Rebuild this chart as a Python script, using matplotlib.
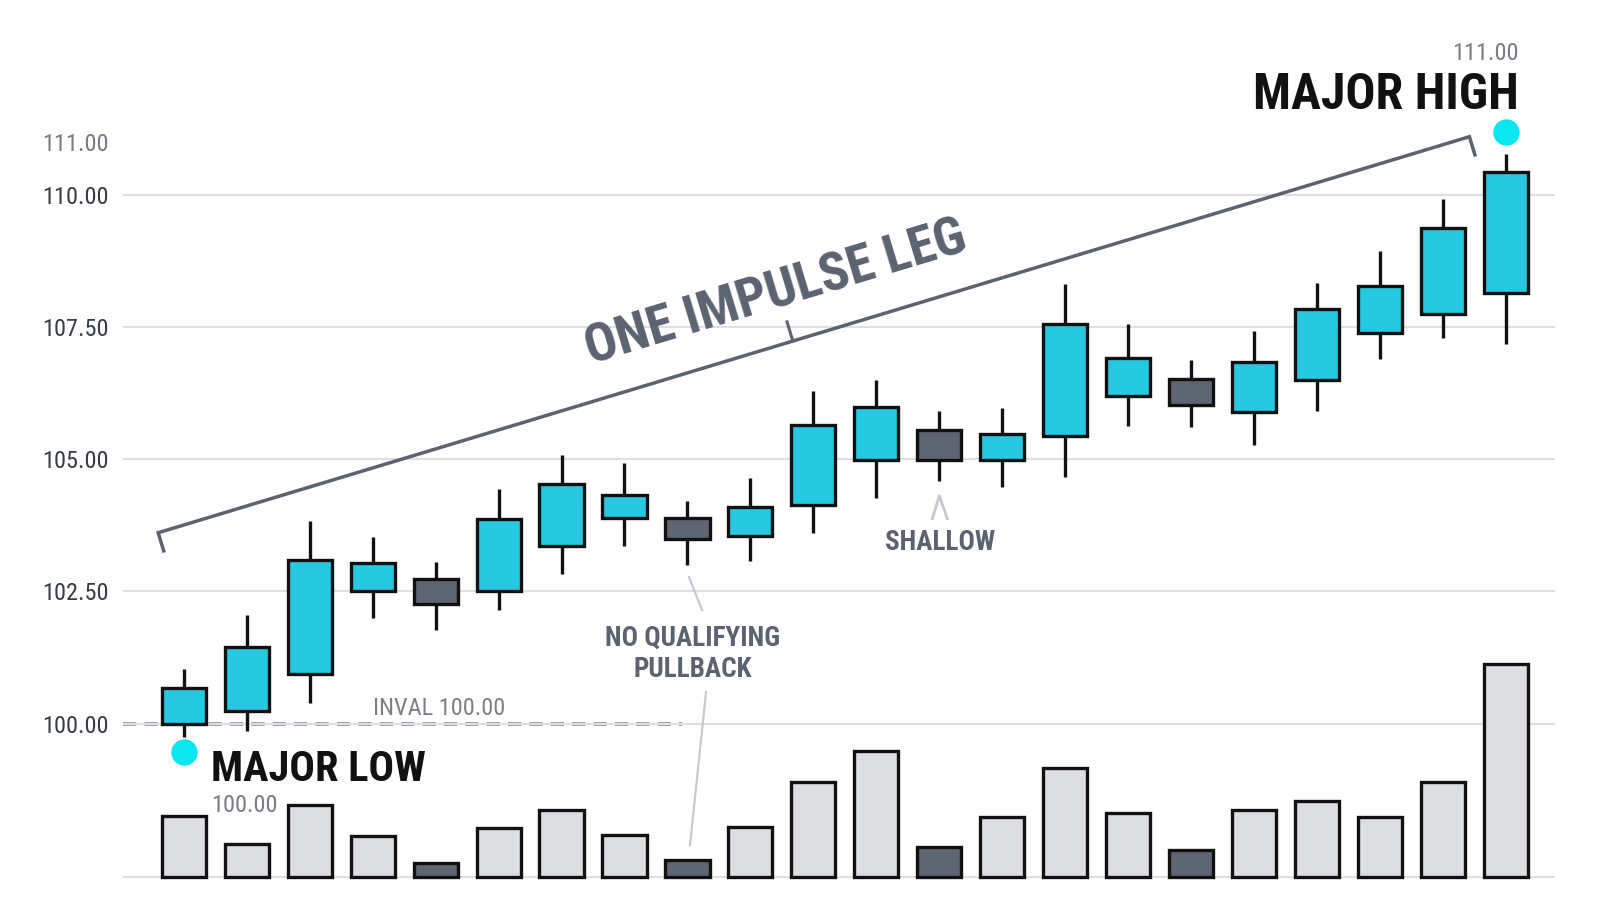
import numpy as np
import matplotlib
matplotlib.use("Agg")
import matplotlib.pyplot as plt

plt.rcParams['font.family'] = ['Roboto Condensed', 'Roboto', 'DejaVu Sans']

# OHLC, one entry per candle
opens = [100.00, 100.23, 100.93, 102.50, 102.74, 102.51, 103.36, 103.88, 103.88, 103.55, 104.13,
         104.98, 105.54, 104.98, 105.43, 106.19, 106.51, 105.89, 106.49, 107.39, 107.75, 108.13]
highs = [101.04, 102.06, 103.82, 103.53, 103.05, 104.44, 105.07, 104.92, 104.20, 104.65, 106.29,
         106.50, 105.90, 105.96, 108.31, 107.56, 106.88, 107.42, 108.33, 108.93, 109.92, 110.76]
lows = [99.75, 99.85, 100.39, 102.00, 101.77, 102.14, 102.82, 103.36, 103.00, 103.07, 103.60,
        104.26, 104.59, 104.47, 104.66, 105.63, 105.60, 105.27, 105.91, 106.90, 107.28, 107.18]
closes = [100.68, 101.45, 103.10, 103.03, 102.26, 103.86, 104.53, 104.32, 103.49, 104.09, 105.65,
          105.98, 104.98, 105.48, 107.56, 106.91, 106.03, 106.83, 107.83, 108.28, 109.36, 110.43]
volumes = [6.0, 3.2, 7.1, 4.0, 1.4, 4.8, 6.6, 4.1, 1.7, 4.9, 9.3,
           12.4, 2.9, 5.9, 10.7, 6.3, 2.6, 6.6, 7.5, 5.9, 9.3, 20.9]

grid_levels = [100.0, 102.5, 105.0, 107.5, 110.0]
top_level = 111.0
major_low = 100.00
major_high = 111.00
low_dot = 99.46
high_dot = 111.19
inval = 100.00

BULL = '#27c8e1'
BEAR = '#5e6572'
EDGE = '#111111'
GRID = '#dcdfe3'
NOTE = '#5b6270'
DOT = '#0ae6f0'

fig = plt.figure(figsize=(16, 9.14), dpi=100)
ax = fig.add_axes([123 / 1600, 0, (1555 - 123) / 1600, 1])
ax.set_xlim(-0.964, 21.777)
ax.set_ylim(96.40, 113.677)
for s in ax.spines.values():
    s.set_visible(False)

x = np.arange(len(opens))
o = np.array(opens)
c = np.array(closes)
up = c >= o
colors = np.where(up, BULL, BEAR)

# grid + y labels
ticks = grid_levels + [top_level]
ax.set_yticks(ticks)
ax.set_yticklabels([f"{t:.2f}" for t in ticks], fontsize=17.5)
ax.tick_params(axis='y', length=0, pad=10)
ax.set_xticks([])
ax.yaxis.grid(True, color=GRID, lw=1.5, zorder=0)
for gl, t in zip(ax.get_ygridlines(), ticks):
    if t == top_level:
        gl.set_visible(False)
for lab, t in zip(ax.get_yticklabels(), ticks):
    lab.set_color('#777b82' if t == top_level else '#373c44')

# candles
ax.vlines(x, lows, highs, color=EDGE, lw=2.4, zorder=2)
ax.bar(x, np.abs(c - o), bottom=np.minimum(o, c), width=0.70, color=colors,
       edgecolor=EDGE, linewidth=2.4, zorder=3)

# volume on its own scale, baseline near the bottom
ax_v = ax.twinx()
k = 10.2
ax_v.set_ylim(-(914 - 877) / k, 877 / k)
ax_v.set_axis_off()
ax_v.axhline(0, color=GRID, lw=1.5, zorder=0)
ax_v.bar(x, volumes, width=0.70, color=np.where(up, '#dcdee2', BEAR),
         edgecolor=EDGE, linewidth=2.4, zorder=2)

# invalidation line
ax.hlines(inval, -0.964, 7.91, colors='#999da4', lw=2.8, linestyles=(0, (3.4, 2.1)), zorder=1)
ax.annotate(f"INVAL {inval:.2f}", (3.0, inval), xytext=(0, 9), textcoords='offset pixels',
            fontsize=17.5, color='#7a7f86', ha='left', va='baseline')

# major low / high
ax.plot([0], [low_dot], 'o', ms=19, color=DOT, mec='none', zorder=5)
ax.plot([21], [high_dot], 'o', ms=19, color=DOT, mec='none', zorder=5)
ax.annotate("MAJOR LOW", (0, low_dot), xytext=(27, -29), textcoords='offset pixels',
            fontsize=30.5, fontweight='bold', color=EDGE, ha='left', va='baseline')
ax.annotate(f"{major_low:.2f}", (0, low_dot), xytext=(27, -60), textcoords='offset pixels',
            fontsize=17.5, color='#777b82', ha='left', va='baseline')
ax.annotate("MAJOR HIGH", (21, high_dot), xytext=(13, 23), textcoords='offset pixels',
            fontsize=36, fontweight='bold', color=EDGE, ha='right', va='baseline')
ax.annotate(f"{major_high:.2f}", (21, high_dot), xytext=(13, 72), textcoords='offset pixels',
            fontsize=17.5, color='#777b82', ha='right', va='baseline')

# impulse-leg bracket
to_px = ax.transData.transform
to_data = ax.transData.inverted().transform
p0 = to_px((-0.405, 103.607))
p1 = to_px((20.418, 111.093))
u = (p1 - p0) / np.hypot(*(p1 - p0))
n_down = np.array([u[1], -u[0]])
hook0 = to_data(p0 + 19 * n_down)
hook1 = to_data(p1 + 19 * n_down)
d0, d1 = to_data(p0), to_data(p1)
ax.plot([hook0[0], d0[0], d1[0], hook1[0]], [hook0[1], d0[1], d1[1], hook1[1]],
        color=NOTE, lw=2.5, solid_joinstyle='miter', zorder=4)
pm = p0 + 0.484 * (p1 - p0)
tm = to_data(pm - 20 * n_down)
dm = to_data(pm)
ax.plot([dm[0], tm[0]], [dm[1], tm[1]], color=NOTE, lw=2.2, zorder=4)
angle = np.degrees(np.arctan2(u[1], u[0]))
pt = to_data(p0 + 0.482 * (p1 - p0) - 36 * n_down)
ax.text(pt[0], pt[1], "ONE IMPULSE LEG", rotation=angle, rotation_mode='anchor',
        ha='center', va='baseline', fontsize=38.5, fontweight='bold', color=NOTE, zorder=4)

# shallow pullback caret
c_low = to_px((12, lows[12]))
caret = [to_data(c_low + d) for d in ([-7, -38], [0, -15], [8, -38])]
ax.plot([q[0] for q in caret], [q[1] for q in caret], color='#c3c7cd', lw=2, zorder=2)
ax.annotate("SHALLOW", (12, lows[12]), xytext=(1, -69), textcoords='offset pixels',
            fontsize=19.5, fontweight='bold', color=NOTE, ha='center', va='baseline')

# no qualifying pullback
ax.plot([8.024, 8.231], [102.769, 102.146], color='#c6cad0', lw=1.6, zorder=2)
ax.plot([8.295, 8.040], [100.595, 97.70], color='#c6cad0', lw=1.6, zorder=2)
ax.text(8.08, 101.31, "NO QUALIFYING\nPULLBACK", fontsize=19.5, fontweight='bold',
        color=NOTE, ha='center', va='center', linespacing=1.2, multialignment='center')

fig.savefig("out.png", dpi=100)
